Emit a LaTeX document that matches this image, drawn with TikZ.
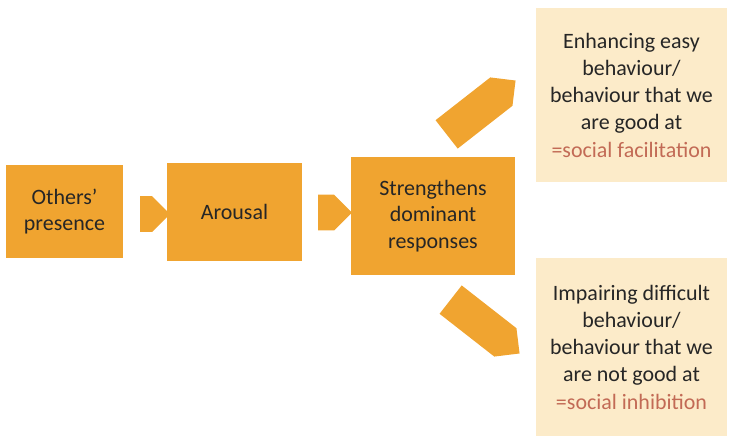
\documentclass[tikz,border=0pt]{standalone}
\usepackage{fontspec}
\setmainfont{Carlito}
\usetikzlibrary{shapes.arrows}
\definecolor{boxorange}{HTML}{F0A430}
\definecolor{paleyellow}{HTML}{FCEBC9}
\definecolor{textgray}{HTML}{262626}
\definecolor{accentred}{HTML}{C26A55}

\begin{document}
\begin{tikzpicture}[x=0.02cm,y=-0.02cm,
    stepbox/.style={fill=boxorange, align=center, font=\fontsize{12.5}{15}\selectfont, text=textgray, inner sep=0pt},
    notebox/.style={fill=paleyellow, align=center, font=\fontsize{12.5}{15.5}\selectfont, text=textgray, inner sep=0pt},
    blockarrow/.style={single arrow, fill=boxorange, minimum height=#1, minimum width=0.72cm,
        single arrow head extend=0pt, single arrow tip angle=90, inner sep=0pt}
]
        % Fix the page size
        \useasboundingbox (0,0) rectangle (739,446);

        % Main chain
        \node[stepbox, minimum width=2.34cm, minimum height=1.86cm] (presence) at (64.5,211.5) {Others'\\presence};
        \node[stepbox, minimum width=2.7cm, minimum height=1.96cm] (arousal) at (234.5,212) {Arousal};
        \node[stepbox, minimum width=3.28cm, minimum height=2.36cm] (dominant) at (433,216) {Strengthens\\dominant\\responses};

        % Outcomes
        \node[notebox, minimum width=3.82cm, minimum height=3.48cm] (facilitation) at (631.5,95)
            {Enhancing easy\\behaviour/\\behaviour that we\\are good at\\\textcolor{accentred}{=social facilitation}};
        \node[notebox, minimum width=3.82cm, minimum height=3.56cm] (inhibition) at (631.5,347)
            {Impairing difficult\\behaviour/\\behaviour that we\\are not good at\\\textcolor{accentred}{=social inhibition}};

        % Block arrows
        \node[blockarrow=0.6cm] (toarousal) at (146,214) {};
        \node[blockarrow=0.68cm] (todominant) at (326,212.5) {};
        \node[blockarrow=1.75cm, rotate=38] (toup) at (474,113) {};
        \node[blockarrow=1.75cm, rotate=-38] (todown) at (478,321) {};
\end{tikzpicture}
\end{document}
